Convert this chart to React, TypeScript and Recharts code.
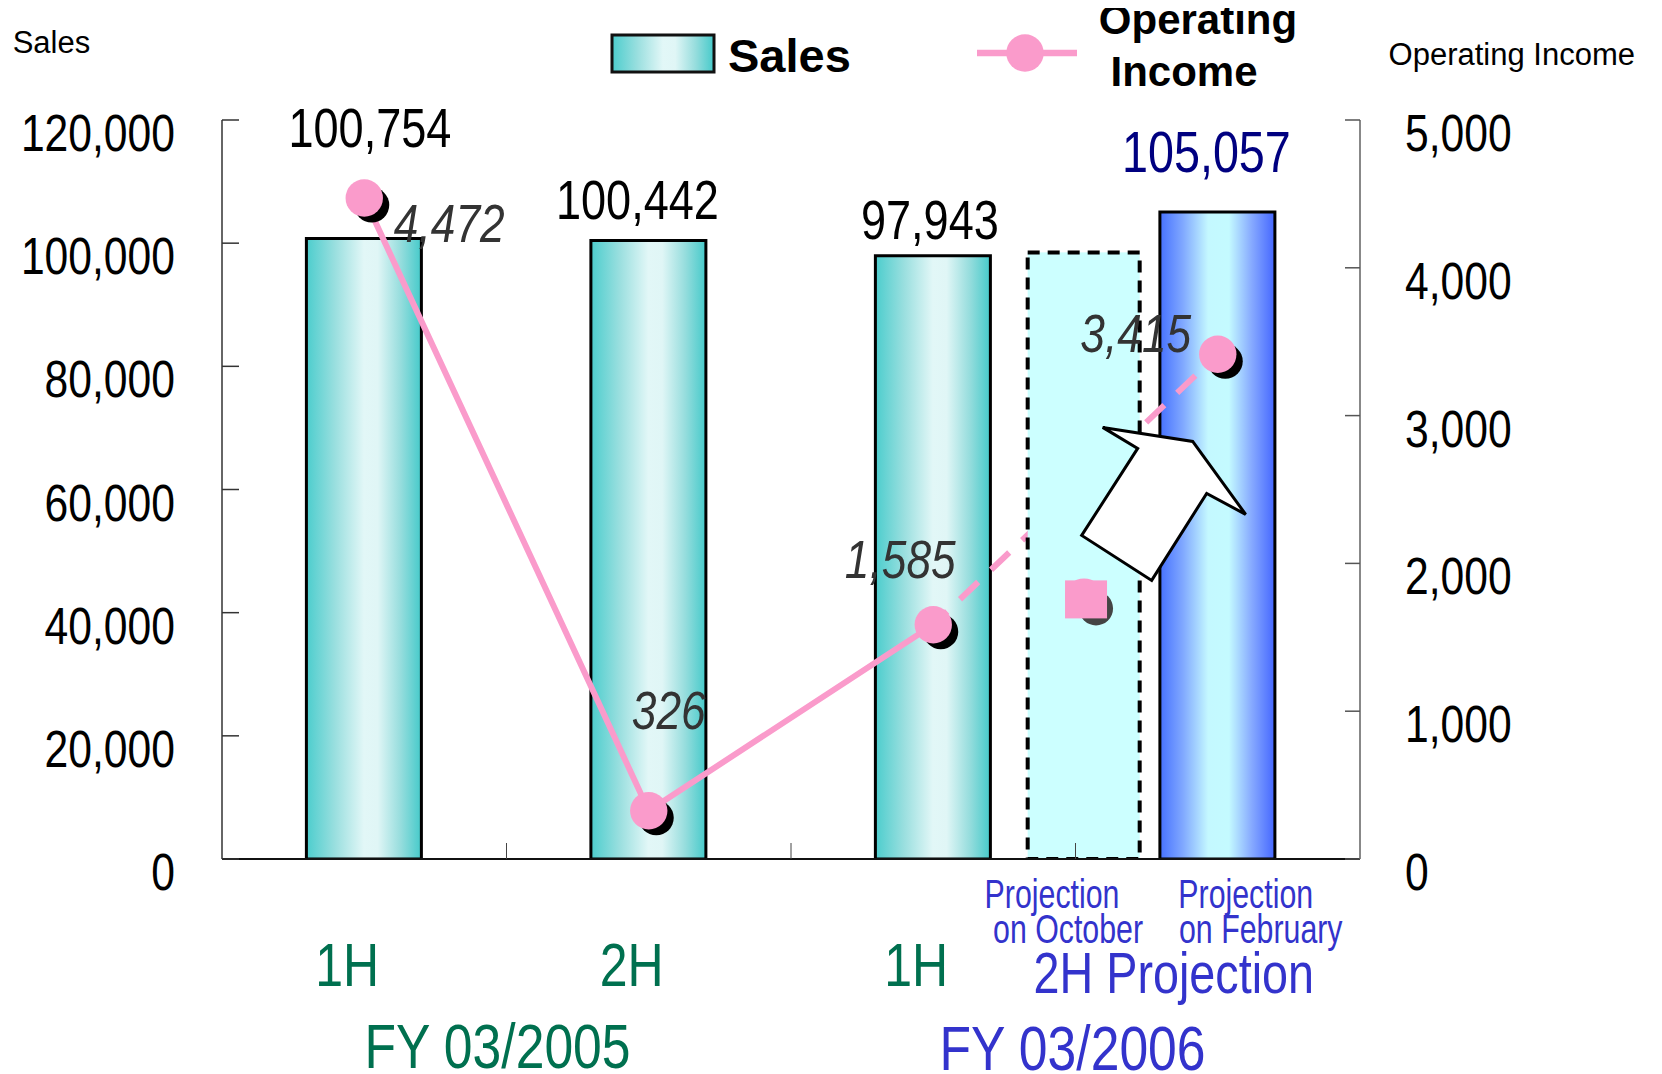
import { ComposedChart, Bar, Line, XAxis, YAxis, Legend, Cell, LabelList } from 'recharts';

const W = 1662;
const H = 1074;
const SANS = "'Liberation Sans', Arial, sans-serif";
const PINK = '#fa9bcb';
const GREEN = '#00704f';
const BLUE = '#3333cc';

// x positions on a numeric axis where each half year is one unit wide
const slots = [0.5, 1.5, 2.5, 3.03, 3.5];
const barNotes = ['', '', '', 'Projection\non October', 'Projection\non February'];
const periods = ['1H', '2H', '1H', '2H Projection'];
const periodCenters = [0.5, 1.5, 2.5, 3.5];
const periodEdges = [1, 2, 3];
const fiscalYears = ['FY 03/2005', 'FY 03/2006'];
const fiscalYearCenters = [1, 3];

const sales = [100754, 100442, 97943, null, 105057];
const salesOctober = [null, null, null, 98500, null];
const income = [4472, 326, 1585, null, null];
const incomeOutlook = [null, null, 1585, null, 3415];
const incomeOctober = [null, null, null, 1770, null];

const salesTicks = [0, 20000, 40000, 60000, 80000, 100000, 120000];
const incomeTicks = [0, 1000, 2000, 3000, 4000, 5000];

const data = slots.map((slot, i) => ({
  slot,
  sales: sales[i],
  salesOctober: salesOctober[i],
  income: income[i],
  incomeOutlook: incomeOutlook[i],
  incomeOctober: incomeOctober[i],
}));

// hand placed label nudges (dx, dy from the mark)
const salesLabelShift: Record<number, [number, number]> = { 0: [6, -92], 1: [-11, -21], 2: [-3, -17], 4: [-11, -40] };
const incomeLabelShift: Record<number, [number, number]> = { 0: [85, 44], 1: [20, -82], 2: [-33, -47], 4: [-82, -2] };
const noteShift: Record<number, [number, number]> = { 3: [-32, -16], 4: [28, 43] };
const periodShift = [-17, -17, -17, -44];
const yearShift = [-9, -3];

const fmt = (v: number) => v.toLocaleString('en-US');
const box = (p: any) => p.viewBox ?? p;

// condensed look: Liberation Sans squeezed horizontally (Arial Narrow proportions)
const Narrow = ({ x, y, size, fill = '#000', anchor = 'middle', italic = false, squeeze = 0.82, children }: any) => (
  <text
    transform={`translate(${x},${y}) scale(${squeeze},1)`}
    textAnchor={anchor}
    fontFamily={SANS}
    fontSize={size}
    fontStyle={italic ? 'italic' : 'normal'}
    fill={fill}
  >
    {children}
  </text>
);

const SalesTick = (p: any) => (
  <g key={`st-${p.index}`}>
    <line x1={p.x} y1={p.y} x2={p.x + 17} y2={p.y} stroke="#333" strokeWidth={1.5} />
    <Narrow x={p.x - 47} y={p.y + 31} size={52} anchor="end">{fmt(p.payload.value)}</Narrow>
  </g>
);

const IncomeTick = (p: any) => (
  <g key={`it-${p.index}`}>
    <line x1={p.x} y1={p.y} x2={p.x - 15} y2={p.y} stroke="#555" strokeWidth={1.5} />
    <Narrow x={p.x + 45} y={p.y + 31} size={52} anchor="start">{fmt(p.payload.value)}</Narrow>
  </g>
);

const EdgeTick = (p: any) => (
  <line key={`et-${p.index}`} x1={p.x} y1={p.y} x2={p.x} y2={p.y - 16} stroke="#444" strokeWidth={1} />
);

const NoteTick = (p: any) => {
  const note = barNotes[p.index];
  if (!note) return <g key={`nt-${p.index}`} />;
  const shift = noteShift[p.index] ?? [0, 0];
  return (
    <g key={`nt-${p.index}`}>
      {note.split('\n').map((l, k) => (
        <Narrow key={k} x={p.x + shift[k]} y={p.y + 48 + k * 35} size={41} squeeze={0.74} fill={BLUE}>
          {l}
        </Narrow>
      ))}
    </g>
  );
};

const PeriodTick = (p: any) => {
  const projection = p.index === periods.length - 1;
  return (
    <g key={`pt-${p.index}`}>
      <Narrow x={p.x + periodShift[p.index]} y={p.y + (projection ? 93 : 86)} size={projection ? 57 : 61} fill={projection ? BLUE : GREEN}>
        {periods[p.index]}
      </Narrow>
    </g>
  );
};

const YearTick = (p: any) => (
  <g key={`yt-${p.index}`}>
    <Narrow x={p.x + yearShift[p.index]} y={p.y + (p.index === 0 ? 108 : 110)} size={63} fill={p.index === 0 ? GREEN : BLUE}>
      {fiscalYears[p.index]}
    </Narrow>
  </g>
);

const AxisTitle = (p: any) => {
  const vb = p.viewBox ?? { x: p.side === 'left' ? 0 : 1360, y: 120 };
  return (
    <text x={vb.x + p.dx} y={vb.y + p.dy} fontFamily={SANS} fontSize={31} fill="#000">
      {p.text}
    </text>
  );
};

// bar label: find the period by value, since empty stack slots may be dropped from the label list
const SalesLabel = (p: any) => {
  const raw = Array.isArray(p.value) ? p.value[1] : p.value;
  const i = raw != null ? sales.indexOf(raw) : p.index;
  const v = sales[i];
  if (i < 0 || v == null) return null;
  const vb = box(p);
  const [dx, dy] = salesLabelShift[i] ?? [0, -20];
  const outlook = i === sales.length - 1;
  return (
    <Narrow x={vb.x + vb.width / 2 + dx} y={vb.y + dy} size={outlook ? 57 : 55} fill={outlook ? '#000080' : '#000'}>
      {fmt(v)}
    </Narrow>
  );
};

const incomeLabel = (values: (number | null)[], skip: (i: number) => boolean) => (p: any) => {
  const v = values[p.index];
  if (v == null || skip(p.index)) return null;
  const vb = box(p);
  const [dx, dy] = incomeLabelShift[p.index] ?? [0, -30];
  return (
    <Narrow x={vb.x + dx} y={vb.y + dy} size={54} italic fill="#333">
      {fmt(v)}
    </Narrow>
  );
};

const PinkDot = ({ cx, cy }: any) => (
  <g>
    <circle cx={cx + 7.5} cy={cy + 7} r={17.5} fill="#000" />
    <circle cx={cx} cy={cy} r={18.7} fill={PINK} />
  </g>
);

const incomeDot = (p: any) =>
  p.value == null || p.cx == null ? <g key={`d-${p.index}`} /> : <PinkDot key={`d-${p.index}`} cx={p.cx} cy={p.cy} />;

const outlookDot = (p: any) =>
  p.value == null || p.cx == null || income[p.index] != null ? (
    <g key={`o-${p.index}`} />
  ) : (
    <PinkDot key={`o-${p.index}`} cx={p.cx} cy={p.cy} />
  );

const octoberDot = (p: any) => {
  if (p.value == null || p.cx == null) return <g key={`q-${p.index}`} />;
  const { cx, cy } = p;
  return (
    <g key={`q-${p.index}`}>
      <circle cx={cx + 12} cy={cy + 11} r={17} fill="#444" />
      <circle cx={cx} cy={cy} r={19} fill={PINK} />
      <rect x={cx - 19} y={cy - 17} width={42} height={38} fill={PINK} />
    </g>
  );
};

// block arrow between the two projections, placed relative to the October bar top
const arrow = [
  [-2, 283], [54, 196], [19, 175], [109, 189], [162, 262], [123, 241], [68, 328],
];

const OctoberBar = (p: any) => {
  const { x, y, width, height, payload } = p;
  if (!payload || payload.salesOctober == null || !height) return <g />;
  const cx = x + width / 2;
  return (
    <g>
      <rect x={x + 1.5} y={y} width={width - 3} height={height} fill="#ccffff" stroke="#000" strokeWidth={4} strokeDasharray="12 8" />
      <polygon
        points={arrow.map(([ax, ay]) => `${cx + ax},${y + ay}`).join(' ')}
        fill="#fff"
        stroke="#000"
        strokeWidth={3}
      />
    </g>
  );
};

const LegendArt = () => (
  <svg width={W} height={100} style={{ display: 'block', overflow: 'visible' }}>
    <rect x={612} y={35} width={102} height={37} fill="url(#tealBar)" stroke="#111" strokeWidth={3} />
    <text x={728} y={72} fontFamily={SANS} fontWeight="bold" fontSize={47} fill="#000">
      Sales
    </text>
    <line x1={977} y1={53} x2={1077} y2={53} stroke={PINK} strokeWidth={6.5} />
    <circle cx={1025} cy={53} r={18.7} fill={PINK} />
    <text x={1198} y={34} textAnchor="middle" fontFamily={SANS} fontWeight="bold" fontSize={42} fill="#000">
      Operating
    </text>
    <text x={1184} y={86} textAnchor="middle" fontFamily={SANS} fontWeight="bold" fontSize={42} fill="#000">
      Income
    </text>
  </svg>
);

export default function App() {
  return (
    <div style={{ marginTop: -8, marginLeft: -8 }}>
      <ComposedChart width={W} height={H} data={data} margin={{ top: 120, right: 0, bottom: 0, left: 0 }}>
        <defs>
          <linearGradient id="tealBar" x1="0" y1="0" x2="1" y2="0">
            <stop offset="0%" stopColor="#4ccdcd" />
            <stop offset="25%" stopColor="#9adfdf" />
            <stop offset="50%" stopColor="#e2f7f7" />
            <stop offset="62%" stopColor="#e0f6f6" />
            <stop offset="82%" stopColor="#96dddd" />
            <stop offset="100%" stopColor="#45caca" />
          </linearGradient>
          <linearGradient id="blueBar" x1="0" y1="0" x2="1" y2="0">
            <stop offset="0%" stopColor="#4671ff" />
            <stop offset="20%" stopColor="#80a8ff" />
            <stop offset="42%" stopColor="#c4f8ff" />
            <stop offset="60%" stopColor="#c4faff" />
            <stop offset="80%" stopColor="#86a9ff" />
            <stop offset="100%" stopColor="#4466ff" />
          </linearGradient>
        </defs>

        {/* bottom axes stack in id order: baseline, bar notes, half years, fiscal years */}
        <XAxis xAxisId={0} dataKey="slot" type="number" domain={[0, 4]} ticks={periodEdges} interval={0} height={1}
          tickSize={0} tickMargin={0} tickLine={false} axisLine={{ stroke: '#111', strokeWidth: 2 }} tick={EdgeTick} allowDataOverflow />
        <XAxis xAxisId={1} dataKey="slot" type="number" domain={[0, 4]} ticks={slots} interval={0} height={40}
          tickSize={0} tickMargin={0} tickLine={false} axisLine={false} tick={NoteTick} allowDataOverflow />
        <XAxis xAxisId={2} dataKey="slot" type="number" domain={[0, 4]} ticks={periodCenters} interval={0} height={60}
          tickSize={0} tickMargin={0} tickLine={false} axisLine={false} tick={PeriodTick} allowDataOverflow />
        <XAxis xAxisId={3} dataKey="slot" type="number" domain={[0, 4]} ticks={fiscalYearCenters} interval={0} height={114}
          tickSize={0} tickMargin={0} tickLine={false} axisLine={false} tick={YearTick} allowDataOverflow />

        <YAxis yAxisId="sales" orientation="left" width={222} domain={[0, 120000]} ticks={salesTicks} interval={0}
          tickSize={0} tickMargin={0} tickLine={false} axisLine={{ stroke: '#333', strokeWidth: 1.5 }} tick={SalesTick}
          allowDataOverflow label={<AxisTitle side="left" text="Sales" dx={12.7} dy={-67} />} />
        <YAxis yAxisId="income" orientation="right" width={302} domain={[0, 5000]} ticks={incomeTicks} interval={0}
          tickSize={0} tickMargin={0} tickLine={false} axisLine={{ stroke: '#888', strokeWidth: 2 }} tick={IncomeTick}
          allowDataOverflow label={<AxisTitle side="right" text="Operating Income" dx={28.6} dy={-55} />} />

        <Legend layout="horizontal" verticalAlign="middle" align="center" width={W} height={100}
          wrapperStyle={{ top: 0, left: 0 }} content={() => <LegendArt />} />

        <Bar xAxisId={0} yAxisId="sales" dataKey="sales" stackId="s" barSize={115} stroke="#000" strokeWidth={3}
          isAnimationActive={false} legendType="none" zIndex={300}>
          {sales.map((_, i) => (
            <Cell key={i} fill={i === sales.length - 1 ? 'url(#blueBar)' : 'url(#tealBar)'} />
          ))}
          <LabelList content={SalesLabel} />
        </Bar>

        <Line xAxisId={0} yAxisId="income" type="linear" dataKey="incomeOutlook" connectNulls stroke={PINK} strokeWidth={6}
          strokeDasharray="25 17.8" strokeDashoffset={5.8} dot={outlookDot} activeDot={false} isAnimationActive={false}
          legendType="none" zIndex={400}>
          <LabelList content={incomeLabel(incomeOutlook, (i) => income[i] != null)} />
        </Line>

        <Line xAxisId={0} yAxisId="income" type="linear" dataKey="income" stroke={PINK} strokeWidth={6}
          dot={incomeDot} activeDot={false} isAnimationActive={false} legendType="none" zIndex={410}>
          <LabelList content={incomeLabel(income, () => false)} />
        </Line>

        <Bar xAxisId={0} yAxisId="sales" dataKey="salesOctober" stackId="s" barSize={115} shape={OctoberBar}
          isAnimationActive={false} legendType="none" zIndex={450} />

        <Line xAxisId={0} yAxisId="income" type="linear" dataKey="incomeOctober" stroke="none" dot={octoberDot}
          activeDot={false} isAnimationActive={false} legendType="none" zIndex={460} />
      </ComposedChart>
    </div>
  );
}
